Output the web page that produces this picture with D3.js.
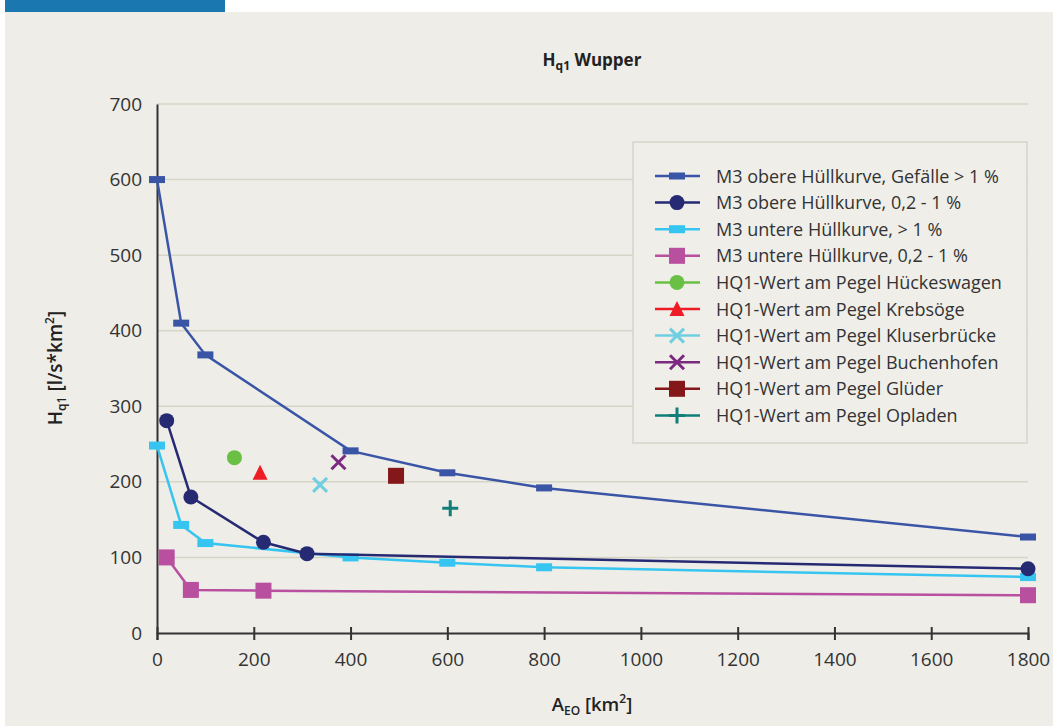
<!DOCTYPE html>
<html><head><meta charset="utf-8">
<script src="https://cdn.jsdelivr.net/npm/d3@7"></script>
<style>
html,body{margin:0;padding:0;background:#fff;}
svg{display:block;font-family:"Open Sans",sans-serif;}
</style></head>
<body><svg id="c" width="1053" height="726"></svg>
<script>
// ---- data ----
const xTicks = [0,200,400,600,800,1000,1200,1400,1600,1800];
const yTicks = [0,100,200,300,400,500,600,700];

const s1x = [0,50,100,400,600,800,1800];
const s1y = [600,410,368,241,212,192,127];
const s2x = [20,70,220,310,1800];
const s2y = [281,180,120,105,85];
const s3x = [0,50,100,400,600,800,1800];
const s3y = [248,143,119,100,93,87,74];
const s4x = [20,70,220,1800];
const s4y = [100,57,56,50];

const pegelNames = ["Hückeswagen","Krebsöge","Kluserbrücke","Buchenhofen","Glüder","Opladen"];
const pegelX = [160,213,337,375,494,606];
const pegelY = [232,212,196,226,208,165];

const curveNames = ["M3 obere Hüllkurve, Gefälle > 1 %","M3 obere Hüllkurve, 0,2 - 1 %","M3 untere Hüllkurve, > 1 %","M3 untere Hüllkurve, 0,2 - 1 %"];

// ---- styles ----
const curveColors = ["#3a55a6","#262a73","#36c5f0","#b84f9f"];
const curveMarkers = ["rectW","circle","rectW2","square"];
const pegelColors = ["#6abf45","#ee1c25","#6fcfe0","#7b2a7f","#83171a","#117f78"];
const pegelMarkers = ["circle","triangle","x","x","square","plus"];

const svg = d3.select("#c");
svg.append("rect").attr("x",5).attr("y",12).attr("width",1048).attr("height",714).attr("fill","#eeede8");
svg.append("rect").attr("x",5).attr("y",0).attr("width",220).attr("height",12).attr("fill","#1a77b0");

const x = d3.scaleLinear().domain([0,1800]).range([157,1028]);
const y = d3.scaleLinear().domain([0,700]).range([633,104]);

// gridlines
svg.append("g").selectAll("line").data(yTicks.filter(d=>d>0)).join("line")
  .attr("x1",157).attr("x2",1028).attr("y1",d=>y(d)).attr("y2",d=>y(d))
  .attr("stroke","#d6d5c6").attr("stroke-width",1.5);

// axes
const gx = svg.append("g").attr("transform","translate(0,633)")
  .call(d3.axisBottom(x).tickValues(xTicks).tickSize(7).tickPadding(13).tickFormat(d3.format("d")));
gx.select(".domain").attr("stroke","#333").attr("stroke-width",2);
gx.selectAll(".tick line").attr("stroke","#333").attr("stroke-width",2).attr("y1",-6);
gx.selectAll("text").attr("font-size",19).attr("fill","#333").attr("font-family","Open Sans");

const gy = svg.append("g").attr("transform","translate(157,0)")
  .call(d3.axisLeft(y).tickValues(yTicks).tickSize(0).tickPadding(15));
gy.select(".domain").attr("stroke","#333").attr("stroke-width",2);
gy.selectAll("text").attr("font-size",19).attr("fill","#333").attr("font-family","Open Sans");

function marker(g, type, cx, cy, color){
  if(type==="rectW"){ g.append("rect").attr("x",cx-8).attr("y",cy-3.5).attr("width",16).attr("height",7).attr("fill",color); }
  else if(type==="rectW2"){ g.append("rect").attr("x",cx-8).attr("y",cy-4).attr("width",16).attr("height",8).attr("fill",color); }
  else if(type==="square"){ g.append("rect").attr("x",cx-8).attr("y",cy-8).attr("width",16).attr("height",16).attr("fill",color); }
  else if(type==="circle"){ g.append("circle").attr("cx",cx).attr("cy",cy).attr("r",7.5).attr("fill",color); }
  else if(type==="triangle"){ g.append("path").attr("d",`M${cx},${cy-8}L${cx+7.5},${cy+7}L${cx-7.5},${cy+7}Z`).attr("fill",color); }
  else if(type==="x"){ g.append("path").attr("d",`M${cx-7},${cy-7}L${cx+7},${cy+7}M${cx-7},${cy+7}L${cx+7},${cy-7}`).attr("stroke",color).attr("stroke-width",3); }
  else if(type==="plus"){ g.append("path").attr("d",`M${cx-8},${cy}L${cx+8},${cy}M${cx},${cy-8}L${cx},${cy+8}`).attr("stroke",color).attr("stroke-width",3); }
}

const curves = [[s1x,s1y],[s2x,s2y],[s3x,s3y],[s4x,s4y]];
const line = d3.line().x(d=>x(d[0])).y(d=>y(d[1]));
const plot = svg.append("g");
[3,2,1,0].forEach(i=>{
  const pts = curves[i][0].map((v,j)=>[v,curves[i][1][j]]);
  plot.append("path").datum(pts).attr("d",line).attr("fill","none").attr("stroke",curveColors[i]).attr("stroke-width",2.5);
  pts.forEach(p=>marker(plot,curveMarkers[i],x(p[0]),y(p[1]),curveColors[i]));
});
pegelX.forEach((v,i)=>marker(plot,pegelMarkers[i],x(v),y(pegelY[i]),pegelColors[i]));

// legend
const lg = svg.append("g");
lg.append("rect").attr("x",633).attr("y",142).attr("width",394).attr("height",301)
  .attr("fill","#efeee9").attr("stroke","#d6d5c6").attr("stroke-width",1.5);
const legNames = curveNames.concat(pegelNames.map(n=>"HQ1-Wert am Pegel "+n));
const legColors = curveColors.concat(pegelColors);
const legMarkers = curveMarkers.concat(pegelMarkers);
legNames.forEach((n,i)=>{
  const ly = 176 + i*26.6;
  lg.append("line").attr("x1",655).attr("x2",700).attr("y1",ly).attr("y2",ly).attr("stroke",legColors[i]).attr("stroke-width",2.5);
  marker(lg,legMarkers[i],677,ly,legColors[i]);
  lg.append("text").attr("x",716).attr("y",ly+6.5).attr("font-size",18).attr("fill","#333").text(n);
});

// title
const t = svg.append("text").attr("x",592).attr("y",66).attr("text-anchor","middle").attr("font-size",17).attr("font-weight","bold").attr("fill","#222");
t.append("tspan").text("H");
t.append("tspan").attr("font-size",12).attr("dy",4).text("q1");
t.append("tspan").attr("dy",-4).text(" Wupper");

// y title
const yt = svg.append("text").attr("transform","translate(62,368) rotate(-90)").attr("text-anchor","middle").attr("font-size",19).attr("font-weight","600").attr("fill","#222");
yt.append("tspan").text("H");
yt.append("tspan").attr("font-size",12).attr("dy",4).text("q1");
yt.append("tspan").attr("dy",-4).text(" [l/s*km");
yt.append("tspan").attr("font-size",12).attr("dy",-8).text("2");
yt.append("tspan").attr("dy",8).text("]");

// x title
const xt = svg.append("text").attr("x",592).attr("y",711).attr("text-anchor","middle").attr("font-size",18.5).attr("font-weight","600").attr("fill","#222");
xt.append("tspan").text("A");
xt.append("tspan").attr("font-size",12).attr("dy",4).text("EO");
xt.append("tspan").attr("dy",-4).text(" [km");
xt.append("tspan").attr("font-size",12).attr("dy",-8).text("2");
xt.append("tspan").attr("dy",8).text("]");
</script></body></html>
